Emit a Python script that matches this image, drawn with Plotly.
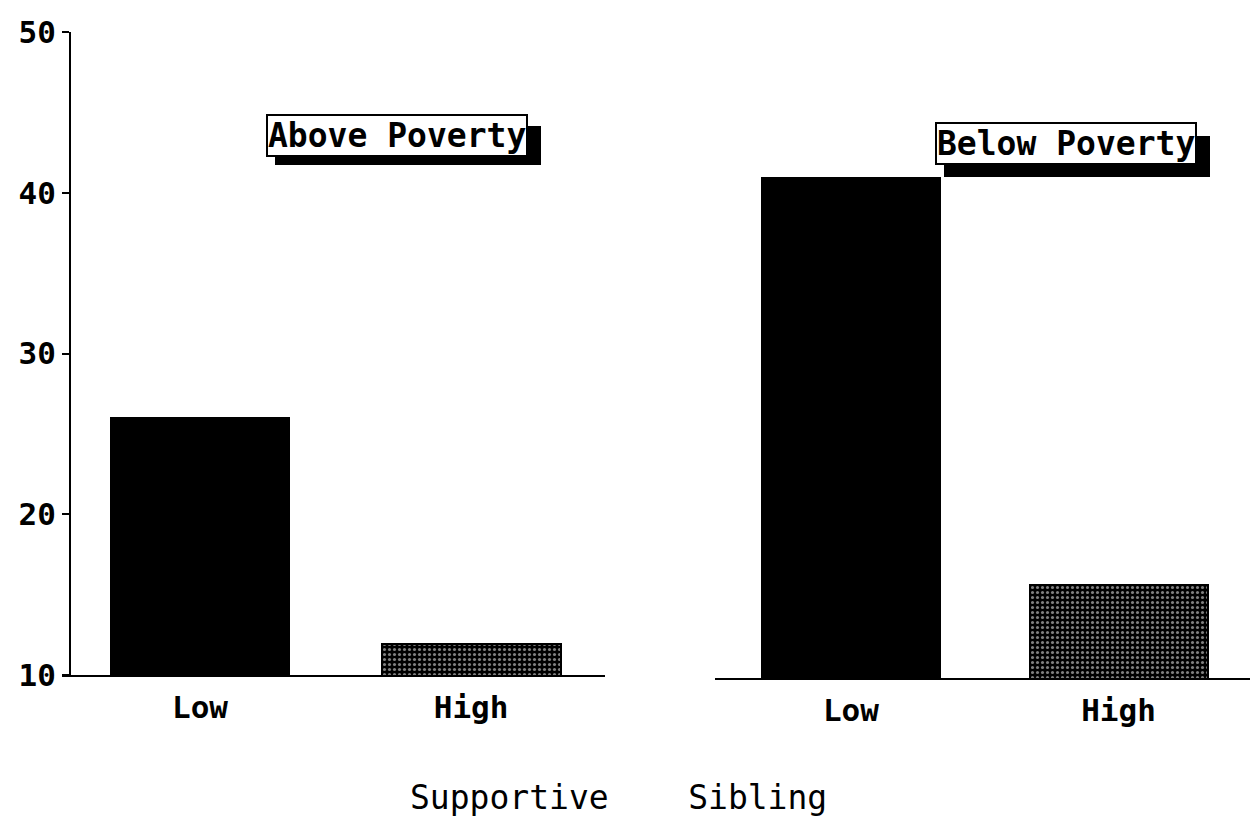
import plotly.graph_objects as go

# the page places the figure 8px from the top-left corner (browser body margin)
OFF = 8
W, H = 1258 - OFF, 817 - OFF

categories = ["Low", "High"]
above_poverty = [26.0, 11.9]
below_poverty = [41.1, 15.8]
y_ticks = [10, 20, 30, 40, 50]
panel_labels = ["Above Poverty", "Below Poverty"]
x_title = "Supportive\u00a0\u00a0\u00a0\u00a0Sibling"

FONT = "DejaVu Sans Mono"

def px(x):
    return (x - OFF) / W

def py(y):
    return 1 - (y - OFF) / H

def bar_markers():
    return dict(
        color=["black", "black"],
        line=dict(color="black", width=2),
        pattern=dict(shape=["", "."], bgcolor="black", fgcolor="white",
                     size=5, solidity=0.3),
    )

fig = go.Figure()
fig.add_trace(go.Bar(x=categories, y=above_poverty, marker=bar_markers(),
                     width=0.66, xaxis="x", yaxis="y", showlegend=False))
fig.add_trace(go.Bar(x=categories, y=below_poverty, marker=bar_markers(),
                     width=0.665, xaxis="x2", yaxis="y2", showlegend=False))

y_bot1, y_top1 = py(675), py(32)
y_bot2 = py(678)
y_top2 = y_bot2 + (y_top1 - y_bot1)

tickfont = dict(family=FONT, size=31, color="black", weight="bold")
catfont = dict(family=FONT, size=31, color="black", weight="bold")

fig.update_layout(
    width=W, height=H,
    margin=dict(l=0, r=0, t=0, b=0),
    paper_bgcolor="white", plot_bgcolor="white",
    bargap=0,
    xaxis=dict(domain=[px(62), px(605)], type="category", range=[-0.509, 1.494],
               showline=True, linecolor="black", linewidth=2, ticks="",
               tickfont=catfont, showgrid=False, zeroline=False, anchor="y",
               automargin=False, ticklabelstandoff=4),
    yaxis=dict(domain=[y_bot1, y_top1], range=[10, 50], tickvals=y_ticks,
               showline=True, linecolor="black", linewidth=2, ticks="outside",
               ticklen=7, tickwidth=2, tickcolor="black",
               tickfont=tickfont, showgrid=False, zeroline=False,
               anchor="free", position=px(70), automargin=False),
    xaxis2=dict(domain=[px(715), px(1255)], type="category", range=[-0.508, 1.51],
                showline=True, linecolor="black", linewidth=2, ticks="",
                tickfont=catfont, showgrid=False, zeroline=False, anchor="y2",
                automargin=False, ticklabelstandoff=4),
    yaxis2=dict(domain=[y_bot2, y_top2], range=[10, 50], visible=False,
                anchor="x2"),
    font=dict(family=FONT, color="black"),
)

# shadows for the panel labels
fig.add_shape(type="rect", xref="paper", yref="paper",
              x0=px(275), x1=px(541), y0=py(165), y1=py(126),
              fillcolor="black", line=dict(width=0), layer="above")
fig.add_shape(type="rect", xref="paper", yref="paper",
              x0=px(944), x1=px(1210), y0=py(177), y1=py(136),
              fillcolor="black", line=dict(width=0), layer="above")

label_font = dict(family=FONT, size=33, color="black", weight="bold")
fig.add_annotation(text=panel_labels[0], xref="paper", yref="paper",
                   x=px(397), y=py(135), xanchor="center", yanchor="middle",
                   showarrow=False, font=label_font, bgcolor="white",
                   bordercolor="black", borderwidth=2, borderpad=0)
fig.add_annotation(text=panel_labels[1], xref="paper", yref="paper",
                   x=px(1066), y=py(144), xanchor="center", yanchor="middle",
                   showarrow=False, font=label_font, bgcolor="white",
                   bordercolor="black", borderwidth=2, borderpad=0)

fig.add_annotation(text=x_title, xref="paper", yref="paper",
                   x=px(618), y=py(797), xanchor="center", yanchor="middle",
                   showarrow=False,
                   font=dict(family=FONT, size=33, color="black"))

fig.write_html("out.html")
